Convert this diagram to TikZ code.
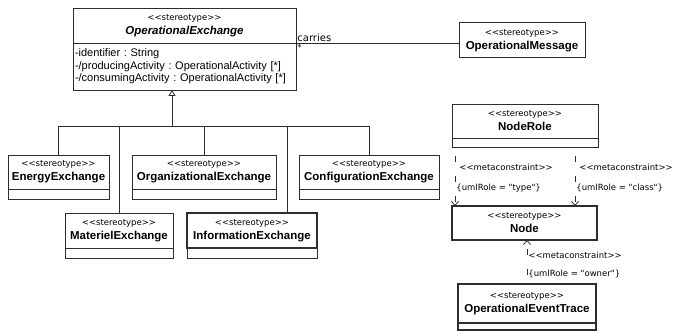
\documentclass[tikz,border=0pt]{standalone}
\usepackage{fontspec}
\setmainfont{Liberation Sans}
\newfontfamily\stfont{DejaVu Sans}
\usepackage{tikz}
\usetikzlibrary{arrows.meta, positioning}
\frenchspacing
\definecolor{umlline}{RGB}{45,45,45}
\newcommand{\stereo}[1]{{\stfont\fontsize{8.5}{10}\selectfont <<stereotype>>}\\[1pt]{\bfseries #1}}
\tikzset{
  cls/.style={rectangle, draw=umlline, line width=0.8pt, align=center, outer sep=0pt,
    inner sep=0pt, anchor=north west, font=\fontsize{11.5}{13}\selectfont},
  boldcls/.style={cls, line width=1.15pt},
  comp/.style={rectangle, draw=umlline, line width=0.8pt, inner sep=0pt, outer sep=0pt,
    minimum height=10pt},
  boldcomp/.style={comp, line width=1.15pt},
  attrs/.style={rectangle, draw=umlline, line width=0.8pt, align=left, outer sep=0pt,
    inner xsep=2pt, inner ysep=0pt, font=\fontsize{11}{12.5}\selectfont},
  genline/.style={draw=umlline, line width=0.8pt},
  gentip/.style={genline, -{Triangle[open, length=6pt, width=7pt, fill=white]}},
  meta/.style={draw=umlline, line width=0.8pt, dash pattern=on 6pt off 14pt,
    dash phase=11pt, -{Straight Barb[length=4pt, width=7pt]}},
  lbl/.style={font=\stfont\fontsize{8.5}{10}\selectfont, inner sep=1pt}
}

\begin{document}
\begin{tikzpicture}[x=1pt, y=-1pt]
\useasboundingbox (0,0) rectangle (675,331);
% OperationalExchange and the message it carries
\node[cls, minimum width=223pt, minimum height=35pt] (opex) at (73,8)
  {\stereo{\itshape OperationalExchange}};
\node[attrs, text width=219pt, minimum height=47pt, below=0pt of opex] (opexattr)
  {-identifier : String\\-/producingActivity : OperationalActivity [*]\\-/consumingActivity : OperationalActivity [*]};
\node[boldcls, line width=1pt, minimum width=126pt, minimum height=35pt] (opmsg) at (459,23)
  {\stereo{OperationalMessage}};
\draw[genline] (opex.south east) --
  node[lbl, pos=0, above right, font=\stfont\fontsize{10}{12}\selectfont]{carries}
  node[lbl, pos=0, below right]{*} (opex.south east -| opmsg.west);
% specialisations
\node[cls, minimum width=101pt, minimum height=34pt] (energy) at (8,155) {\stereo{EnergyExchange}};
\node[comp, minimum width=101pt, below=0pt of energy] (energyc) {};
\node[cls, minimum width=144pt, minimum height=34pt] (org) at (132,155) {\stereo{OrganizationalExchange}};
\node[comp, minimum width=144pt, below=0pt of org] (orgc) {};
\node[cls, minimum width=140pt, minimum height=34pt] (config) at (299,155) {\stereo{ConfigurationExchange}};
\node[comp, minimum width=140pt, below=0pt of config] (configc) {};
\node[cls, minimum width=108pt, minimum height=35pt] (materiel) at (65,213) {\stereo{MaterielExchange}};
\node[comp, minimum width=108pt, below=0pt of materiel] (materielc) {};
\node[boldcls, minimum width=130pt, minimum height=35pt] (info) at (187,213) {\stereo{InformationExchange}};
\node[comp, minimum width=130pt, below=0pt of info] (infoc) {};
\coordinate (bar) at (172,126);
\draw[genline] (energy.north) |- (bar);
\draw[genline] (materiel.north) |- (bar);
\draw[genline] (org.north) |- (bar);
\draw[genline] ([xshift=35pt]info.north) |- (bar);
\draw[genline] (config.north) |- (bar);
\draw[gentip] (bar) -- (bar |- opexattr.south);
% node roles
\node[cls, minimum width=146pt, minimum height=34pt] (noderole) at (452,104) {\stereo{NodeRole}};
\node[comp, minimum width=146pt, minimum height=9pt, below=0pt of noderole] (noderolec) {};
\node[boldcls, minimum width=145pt, minimum height=34pt] (nd) at (452,206) {\stereo{Node}};
\node[boldcls, minimum width=138pt, minimum height=39pt] (oet) at (458,284) {\stereo{OperationalEventTrace}};
\node[boldcomp, minimum width=138pt, minimum height=7pt, below=0pt of oet] (oetc) {};
\draw[meta] ([xshift=3pt]noderolec.south west) --
  node[lbl, pos=0.34, right, xshift=3pt]{<<metaconstraint>>}
  node[lbl, pos=0.69, right]{\{umlRole = "type"\}}
  ([xshift=3pt]noderolec.south west |- nd.north);
\draw[meta] ([xshift=-23pt]noderolec.south east) --
  node[lbl, pos=0.34, right, xshift=3pt]{<<metaconstraint>>}
  node[lbl, pos=0.69, right]{\{umlRole = "class"\}}
  ([xshift=-23pt]noderolec.south east |- nd.north);
\draw[meta] (oet.north) --
  node[lbl, pos=0.65, right]{<<metaconstraint>>}
  node[lbl, pos=0.23, right]{\{umlRole = "owner"\}}
  (oet.north |- nd.south);
\end{tikzpicture}
\end{document}
